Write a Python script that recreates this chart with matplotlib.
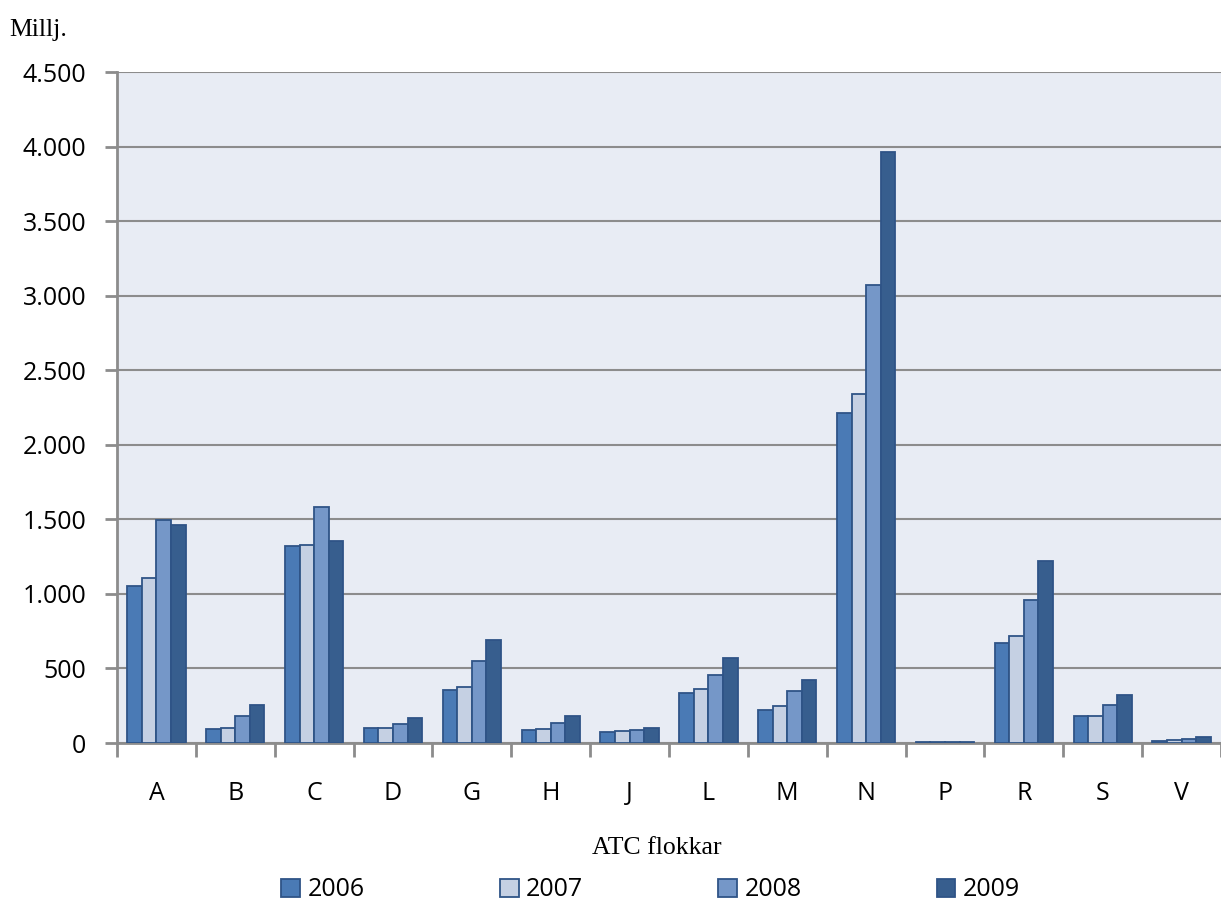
import numpy as np
import matplotlib.pyplot as plt
from matplotlib.ticker import FuncFormatter, FixedLocator

# ATC flokkar og árlegar upphæðir (millj.)
categories = ["A", "B", "C", "D", "G", "H", "J", "L", "M", "N", "P", "R", "S", "V"]
years = ["2006", "2007", "2008", "2009"]
v2006 = [1050, 94, 1321, 100, 355, 87, 74, 335, 221, 2210, 5, 671, 181, 14]
v2007 = [1107, 100, 1325, 100, 376, 94, 80, 362, 248, 2341, 5, 718, 183, 20]
v2008 = [1496, 181, 1583, 127, 550, 134, 87, 456, 349, 3072, 7, 959, 255, 27]
v2009 = [1462, 255, 1355, 168, 690, 181, 100, 570, 422, 3964, 8, 1221, 322, 37]
colors = ["#4A7AB5", "#C5D0E3", "#7597C8", "#375E8E"]

series = [v2006, v2007, v2008, v2009]

fig = plt.figure(figsize=(12.21, 9.05), dpi=100)
ax = fig.add_axes([0.0958, 0.179, 0.9042, 0.7414])
ax.set_facecolor("#E8ECF4")

x = np.arange(len(categories))
w = 0.185
for i, (vals, c) in enumerate(zip(series, colors)):
    ax.bar(x + (i - 1.5) * w, vals, width=w, color=c, edgecolor="#2F5487",
           linewidth=1.3, label=years[i], zorder=3)

ax.set_xlim(-0.5, len(categories) - 0.5)
ax.set_ylim(0, 4500)
ax.set_yticks(np.arange(0, 4501, 500))
ax.yaxis.set_major_formatter(FuncFormatter(lambda v, p: f"{int(v):,}".replace(",", ".")))
ax.grid(axis="y", color="#8C8C8C", linewidth=1.5, zorder=1)

ax.set_xticks(x)
ax.set_xticklabels(categories)
ax.xaxis.set_minor_locator(FixedLocator(np.arange(-0.5, len(categories), 1.0)))
ax.tick_params(axis="x", which="major", length=0, pad=27, labelsize=18)
ax.tick_params(axis="x", which="minor", length=10, width=2, color="#8C8C8C")
ax.tick_params(axis="y", length=9, width=2, color="#8C8C8C", pad=13, labelsize=18)
for lab in ax.get_xticklabels() + ax.get_yticklabels():
    lab.set_fontfamily("Open Sans")

for s in ["top", "right"]:
    ax.spines[s].set_visible(False)
for s in ["left", "bottom"]:
    ax.spines[s].set_color("#8C8C8C")
    ax.spines[s].set_linewidth(2)

fig.text(0.008, 0.96, "Millj.", family="Liberation Serif", fontsize=18.5)
fig.text(0.538, 0.056, "ATC flokkar", family="Liberation Serif", fontsize=18.5, ha="center")

leg = fig.legend(loc="lower center", bbox_to_anchor=(0.533, -0.022), ncol=4, frameon=False,
                 prop={"family": "Open Sans", "size": 18}, columnspacing=5.4,
                 handlelength=0.75, handleheight=0.75, handletextpad=0.3)

fig.savefig("out.png", dpi=100)
